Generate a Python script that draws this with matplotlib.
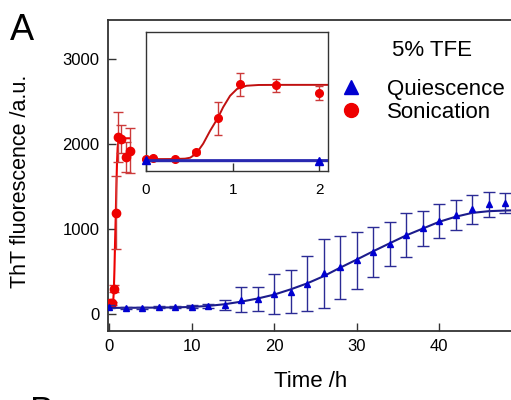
import matplotlib
matplotlib.use("Agg")
import matplotlib.pyplot as plt
from matplotlib.lines import Line2D

plt.rcParams['font.family'] = ['Liberation Sans', 'DejaVu Sans']

# quiescent samples, every 2 h
quiet_t = [0, 2, 4, 6, 8, 10, 12, 14, 16, 18, 20, 22, 24,
           26, 28, 30, 32, 34, 36, 38, 40, 42, 44, 46, 48]
quiet_v = [86, 67, 67, 82, 82, 86, 94, 106, 170, 176, 233, 263, 359,
           478, 549, 635, 725, 820, 929, 1008, 1094, 1165, 1231, 1294, 1302]
quiet_err = [15, 10, 10, 12, 12, 15, 25, 59, 147, 140, 236, 257, 325,
             410, 373, 335, 294, 259, 259, 210, 204, 180, 171, 147, 118]

# sonicated samples
sonic_t = [0, 0.083, 0.33, 0.58, 0.83, 1.08, 1.5, 2.0, 2.5]
sonic_v = [115, 130, 125, 300, 1190, 2080, 2060, 1850, 1920]
sonic_err = [30, 20, 20, 45, 430, 295, 170, 180, 265]

# fitted curves
quiet_fit_t = [0, 4, 8, 10, 12, 14, 16, 18, 20, 22, 24, 26, 28,
               30, 32, 34, 36, 38, 40, 42, 44, 46, 48, 50]
quiet_fit_v = [72, 74, 78, 83, 95, 115, 145, 182, 228, 290, 360, 445, 545,
               640, 738, 832, 925, 1005, 1085, 1145, 1190, 1210, 1218, 1222]
sonic_fit_t = [0, 0.3, 0.45, 0.51, 0.58, 0.66, 0.74, 0.83, 0.89, 0.97,
               1.05, 1.16, 1.3, 1.6, 2.5]
sonic_fit_v = [112, 115, 125, 150, 260, 520, 860, 1200, 1480, 1780,
               1960, 2045, 2065, 2068, 2068]

BLUE = '#0000d0'
BLUE_ERR = '#2b2b95'
BLUE_FIT = '#1c1c8c'
RED = '#ee0000'
RED_ERR = '#cc3a3a'
RED_FIT = '#c01010'
SPINE = '#333333'

INSET_END = 2.1

fig = plt.figure(figsize=(5.11, 4.0), dpi=100)
ax = fig.add_axes([108/511, 69/400, 403/511, 311/400])

ax.plot(sonic_fit_t, sonic_fit_v, color=RED, lw=1.5, zorder=2)
ax.errorbar(sonic_t, sonic_v, yerr=sonic_err, fmt='o', color=RED, ms=6,
            ecolor=RED_ERR, elinewidth=1, capsize=3.5, zorder=3)
ax.plot(quiet_fit_t, quiet_fit_v, color=BLUE_FIT, lw=1.5, zorder=4)
ax.errorbar(quiet_t, quiet_v, yerr=quiet_err, fmt='^', color=BLUE, ms=5,
            ecolor=BLUE_ERR, elinewidth=1, capsize=4.5, zorder=5)

ax.set_xlim(-0.12, 48.7)
ax.set_ylim(-200, 3460)
ax.set_xticks([0, 10, 20, 30, 40])
ax.set_yticks([0, 1000, 2000, 3000])
ax.tick_params(direction='in', length=6, width=1, colors=SPINE,
               labelcolor='black', labelsize=12, pad=6)
ax.spines['right'].set_visible(False)
for s in ['left', 'bottom', 'top']:
    ax.spines[s].set_color(SPINE)
    ax.spines[s].set_linewidth(1.3)
ax.set_xlabel('Time /h', fontsize=16)
ax.set_ylabel('ThT fluorescence /a.u.', fontsize=15.5)
ax.xaxis.set_label_coords((311-108)/403, -(371-331)/311)
ax.yaxis.set_label_coords(-(108-31)/403, (331-181)/311)

# inset: first two hours only
s_idx = [i for i, t in enumerate(sonic_t) if t <= INSET_END]
q_idx = [i for i, t in enumerate(quiet_t) if t <= INSET_END]

ins = fig.add_axes([146/511, (400-171)/400, 182/511, 139/400])
ins.plot(sonic_fit_t, sonic_fit_v, color=RED_FIT, lw=1.4, zorder=2)
ins.errorbar([sonic_t[i] for i in s_idx], [sonic_v[i] for i in s_idx],
             yerr=[sonic_err[i] for i in s_idx], fmt='o', color=RED, ms=5.5,
             ecolor=RED_ERR, elinewidth=1, capsize=3, zorder=3, clip_on=False)
ins.plot(quiet_fit_t, quiet_fit_v, color='#2828b0', lw=2.2, zorder=4)
ins.plot([quiet_t[i] for i in q_idx], [quiet_v[i] for i in q_idx], '^',
         color=BLUE, ms=6, zorder=5, clip_on=False)
ins.set_xlim(0, INSET_END)
ins.set_ylim(-200, 3460)
ins.set_xticks([0, 1, 2])
ins.set_yticks([])
ins.tick_params(direction='in', length=6, width=1, colors=SPINE,
                labelcolor='black', labelsize=11, pad=9)
for s in ins.spines.values():
    s.set_color(SPINE)
    s.set_linewidth(1)

handles = [Line2D([], [], marker='^', ls='none', color=BLUE, ms=10),
           Line2D([], [], marker='o', ls='none', color=RED, ms=10)]
fig.legend(handles, ['Quiescence', 'Sonication'], loc='upper left',
           bbox_to_anchor=(340/511, 1 - 79/400), frameon=False, fontsize=16,
           handlelength=1.0, handletextpad=1.1, labelspacing=0.1,
           borderpad=0, borderaxespad=0)
fig.text(432/511, 1 - 50/400, '5% TFE', fontsize=16, ha='center', va='center')

fig.text(10/511, 1 - 13/400, 'A', fontsize=26, ha='left', va='top')
fig.text(30/511, 1 - 396/400, 'B', fontsize=26, ha='left', va='top')

fig.savefig('out.png', dpi=100)
